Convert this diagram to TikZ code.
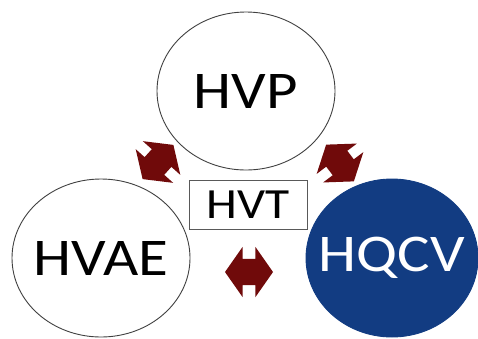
\documentclass[tikz,border=0pt]{standalone}
\usepackage{fontspec}
\setmainfont{Carlito}[FakeStretch=1.15]
\usepackage{xcolor}
\usepackage{tikz}
\usetikzlibrary{shapes.geometric,shapes.arrows,positioning}
\definecolor{hqblue}{RGB}{18,60,130}
\definecolor{linkred}{RGB}{112,10,10}

\begin{document}
\begin{tikzpicture}[
        x=1pt, y=-1pt,
        field/.style={ellipse, draw=black!75, line width=0.9pt, fill=white, inner xsep=-30pt, inner ysep=0pt,
            minimum width=178pt, minimum height=158pt, font=\fontsize{53}{60}\selectfont},
        core/.style={rectangle, draw=black!65, line width=0.9pt, fill=white, inner sep=0pt,
            minimum width=118pt, minimum height=49pt, font=\fontsize{43}{50}\selectfont},
        link/.style={double arrow, fill=linkred, draw=none, inner xsep=0pt, inner ysep=13pt,
            minimum height=48pt, double arrow head extend=12pt, double arrow tip angle=110}
    ]
        \useasboundingbox (0,0) rectangle (478,338);
        \node[link, rotate=48, minimum height=46pt] (l1) at (158,162) {};
        \node[link, rotate=-53, minimum height=46pt] (l2) at (340,163) {};
        \node[link] (l3) at (249,272) {};

        \node[field] (hvp) at (246,91) {HVP};
        \node[field] (hvae) at (101,258) {HVAE};
        \node[field, fill=hqblue, draw=hqblue, text=white, minimum width=172pt] (hqcv) at (392,258) {HQCV};
        \node[core] (hvt) at (248,205) {HVT};
    \end{tikzpicture}
\end{document}
